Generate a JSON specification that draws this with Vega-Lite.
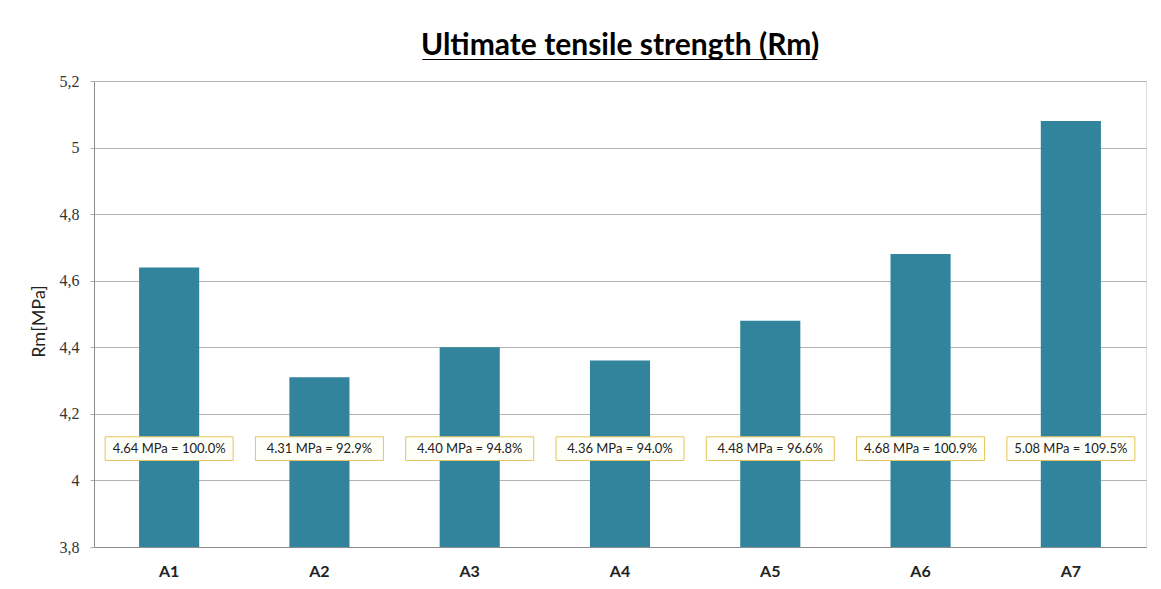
{
  "$schema": "https://vega.github.io/schema/vega-lite/v6.json",
  "autosize": "none",
  "width": 1052,
  "height": 466,
  "padding": {"left": 94, "top": 81, "right": 15, "bottom": 42},
  "background": "white",
  "title": {
    "text": "Ultimate tensile strength (Rm)",
    "subtitle": "___________________________________",
    "font": "Lato",
    "fontSize": 30,
    "fontWeight": "bold",
    "color": "#000000",
    "subtitleFont": "Liberation Sans",
    "subtitleFontSize": 20.3,
    "subtitleFontWeight": "bold",
    "subtitleColor": "#000000",
    "subtitlePadding": -20,
    "anchor": "middle",
    "offset": 12
  },
  "data": {
    "values": [
      {"sample": "A1", "rm": 4.64, "label": "4.64 MPa = 100.0%"},
      {"sample": "A2", "rm": 4.31, "label": "4.31 MPa = 92.9%"},
      {"sample": "A3", "rm": 4.40, "label": "4.40 MPa = 94.8%"},
      {"sample": "A4", "rm": 4.36, "label": "4.36 MPa = 94.0%"},
      {"sample": "A5", "rm": 4.48, "label": "4.48 MPa = 96.6%"},
      {"sample": "A6", "rm": 4.68, "label": "4.68 MPa = 100.9%"},
      {"sample": "A7", "rm": 5.08, "label": "5.08 MPa = 109.5%"}
    ]
  },
  "encoding": {
    "x": {
      "field": "sample",
      "type": "nominal",
      "sort": null,
      "scale": {"paddingInner": 0.6, "paddingOuter": 0.3},
      "axis": {
        "title": null,
        "labelAngle": 0,
        "labelFont": "Lato",
        "labelFontSize": 16,
        "labelFontWeight": "bold",
        "labelColor": "#222222",
        "labelPadding": 16,
        "ticks": false,
        "domainColor": "#8c8c8c",
        "grid": false
      }
    }
  },
  "layer": [
    {
      "mark": {"type": "bar", "color": "#31849B"},
      "encoding": {
        "y": {
          "field": "rm",
          "type": "quantitative",
          "scale": {"domain": [3.8, 5.2], "nice": false, "zero": false},
          "axis": {
            "title": "Rm[MPa]",
            "titleFont": "Lato",
            "titleFontSize": 18,
            "titleFontWeight": "normal",
            "titleColor": "#222222",
            "titleX": -46,
            "titleY": 240,
            "values": [3.8, 4, 4.2, 4.4, 4.6, 4.8, 5, 5.2],
            "labelExpr": "replace(format(datum.value, '~g'), '.', ',')",
            "labelFont": "Liberation Serif",
            "labelFontSize": 16,
            "labelColor": "#333333",
            "labelPadding": 11,
            "tickSize": 4,
            "tickColor": "#b0b0b0",
            "domainColor": "#8c8c8c",
            "gridColor": "#b4b4b4",
            "gridWidth": 1
          }
        },
        "y2": {"datum": 3.8}
      }
    },
    {
      "mark": {
        "type": "bar",
        "width": 128,
        "fill": "#fffffa",
        "stroke": "#e3c55a",
        "strokeWidth": 1
      },
      "encoding": {
        "y": {"datum": 4.06},
        "y2": {"datum": 4.131}
      }
    },
    {
      "mark": {
        "type": "text",
        "font": "Lato",
        "fontSize": 13,
        "color": "#222222",
        "baseline": "middle",
        "align": "center"
      },
      "encoding": {
        "y": {"datum": 4.0955},
        "text": {"field": "label"}
      }
    }
  ]
}
